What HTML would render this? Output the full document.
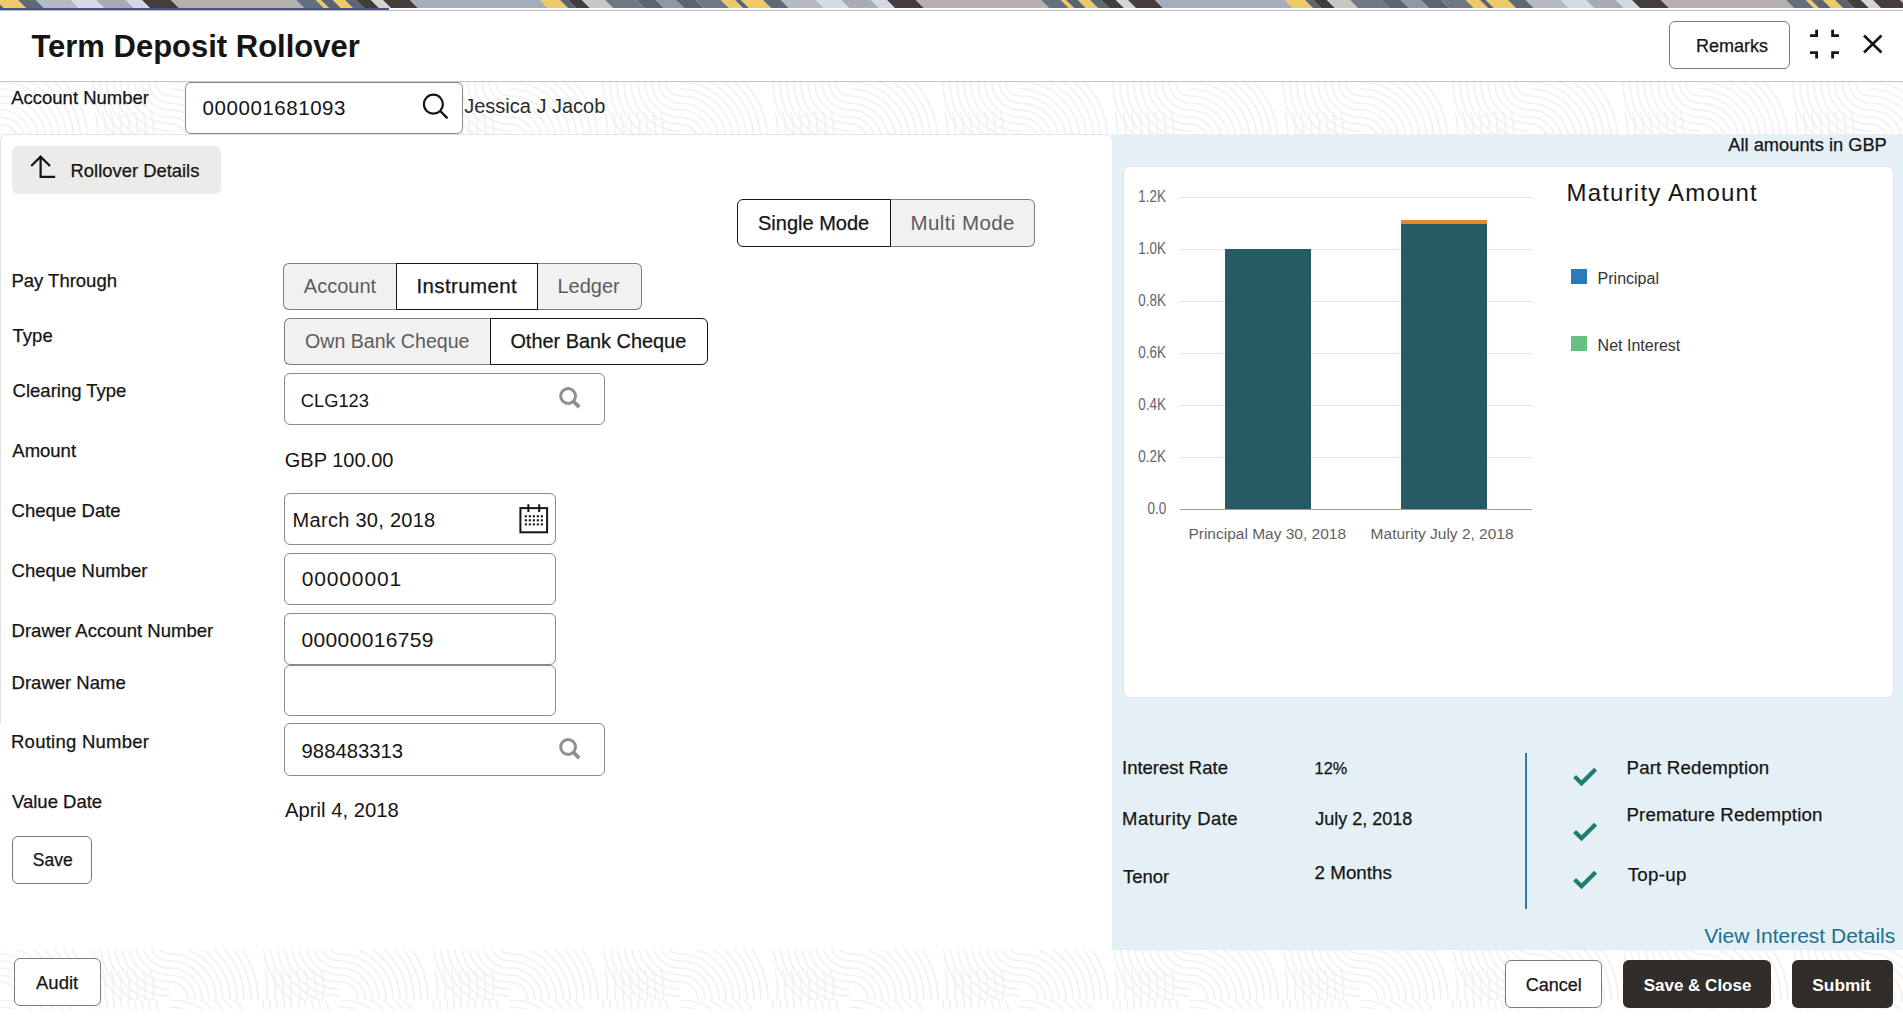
<!DOCTYPE html><html><head><meta charset="utf-8"><style>
*{margin:0;padding:0;box-sizing:border-box}
html,body{width:1903px;height:1016px;overflow:hidden;background:#fff;font-family:"Liberation Sans",sans-serif}
.t{position:absolute;white-space:nowrap;line-height:1}
.b{position:absolute}
</style></head><body>
<svg class="b" style="left:0;top:0" width="1903" height="8" viewBox="0 0 1903 8"><polygon points="-749,0 -727,0 -719,8 -741,8" fill="#edc967"/><polygon points="-727,0 -709,0 -701,8 -719,8" fill="#5f6a76"/><polygon points="-709,0 -674,0 -666,8 -701,8" fill="#b4b9c2"/><polygon points="-674,0 -649,0 -641,8 -666,8" fill="#d6dce6"/><polygon points="-649,0 -619,0 -611,8 -641,8" fill="#a7acb4"/><polygon points="-619,0 -603,0 -595,8 -611,8" fill="#d3d9e2"/><polygon points="-603,0 -574,0 -566,8 -595,8" fill="#423e3b"/><polygon points="-574,0 -449,0 -441,8 -566,8" fill="#b4b0ab"/><polygon points="-449,0 -429,0 -421,8 -441,8" fill="#63707e"/><polygon points="-429,0 -424,0 -416,8 -421,8" fill="#edc967"/><polygon points="-424,0 -412,0 -404,8 -416,8" fill="#5c6670"/><polygon points="-412,0 -400,0 -392,8 -404,8" fill="#edc967"/><polygon points="-400,0 -389,0 -381,8 -392,8" fill="#5c6670"/><polygon points="-389,0 -374,0 -366,8 -381,8" fill="#423e3b"/><polygon points="-374,0 -362,0 -354,8 -366,8" fill="#d6d4d0"/><polygon points="-362,0 -335,0 -327,8 -354,8" fill="#443f3c"/><polygon points="-335,0 -205,0 -197,8 -327,8" fill="#a4adba"/><polygon points="-205,0 -185,0 -177,8 -197,8" fill="#edc967"/><polygon points="-185,0 -177,0 -169,8 -177,8" fill="#5c6670"/><polygon points="-177,0 -163,0 -155,8 -169,8" fill="#433f3c"/><polygon points="-163,0 -140,0 -132,8 -155,8" fill="#c9c8c4"/><polygon points="-140,0 -109,0 -101,8 -132,8" fill="#6e7884"/><polygon points="-109,0 -89,0 -81,8 -101,8" fill="#5b6570"/><polygon points="-89,0 -69,0 -61,8 -81,8" fill="#8e97a4"/><polygon points="-69,0 -49,0 -41,8 -61,8" fill="#5b6570"/><polygon points="-49,0 -24,0 -16,8 -41,8" fill="#6e7884"/><polygon points="-24,0 -10,0 -2,8 -16,8" fill="#edc967"/><polygon points="-10,0 -4,0 4,8 -2,8" fill="#5b6570"/><polygon points="-4,0 18,0 26,8 4,8" fill="#edc967"/><polygon points="18,0 36,0 44,8 26,8" fill="#5f6a76"/><polygon points="36,0 71,0 79,8 44,8" fill="#b4b9c2"/><polygon points="71,0 96,0 104,8 79,8" fill="#d6dce6"/><polygon points="96,0 126,0 134,8 104,8" fill="#a7acb4"/><polygon points="126,0 142,0 150,8 134,8" fill="#d3d9e2"/><polygon points="142,0 171,0 179,8 150,8" fill="#423e3b"/><polygon points="171,0 296,0 304,8 179,8" fill="#b4b0ab"/><polygon points="296,0 316,0 324,8 304,8" fill="#63707e"/><polygon points="316,0 321,0 329,8 324,8" fill="#edc967"/><polygon points="321,0 333,0 341,8 329,8" fill="#5c6670"/><polygon points="333,0 345,0 353,8 341,8" fill="#edc967"/><polygon points="345,0 356,0 364,8 353,8" fill="#5c6670"/><polygon points="356,0 371,0 379,8 364,8" fill="#423e3b"/><polygon points="371,0 383,0 391,8 379,8" fill="#d6d4d0"/><polygon points="383,0 410,0 418,8 391,8" fill="#443f3c"/><polygon points="410,0 540,0 548,8 418,8" fill="#a4adba"/><polygon points="540,0 560,0 568,8 548,8" fill="#edc967"/><polygon points="560,0 568,0 576,8 568,8" fill="#5c6670"/><polygon points="568,0 582,0 590,8 576,8" fill="#433f3c"/><polygon points="582,0 605,0 613,8 590,8" fill="#c9c8c4"/><polygon points="605,0 636,0 644,8 613,8" fill="#6e7884"/><polygon points="636,0 656,0 664,8 644,8" fill="#5b6570"/><polygon points="656,0 676,0 684,8 664,8" fill="#8e97a4"/><polygon points="676,0 696,0 704,8 684,8" fill="#5b6570"/><polygon points="696,0 721,0 729,8 704,8" fill="#6e7884"/><polygon points="721,0 735,0 743,8 729,8" fill="#edc967"/><polygon points="735,0 741,0 749,8 743,8" fill="#5b6570"/><polygon points="741,0 763,0 771,8 749,8" fill="#edc967"/><polygon points="763,0 781,0 789,8 771,8" fill="#5f6a76"/><polygon points="781,0 816,0 824,8 789,8" fill="#b4b9c2"/><polygon points="816,0 841,0 849,8 824,8" fill="#d6dce6"/><polygon points="841,0 871,0 879,8 849,8" fill="#a7acb4"/><polygon points="871,0 887,0 895,8 879,8" fill="#d3d9e2"/><polygon points="887,0 916,0 924,8 895,8" fill="#423e3b"/><polygon points="916,0 1041,0 1049,8 924,8" fill="#b4b0ab"/><polygon points="1041,0 1061,0 1069,8 1049,8" fill="#63707e"/><polygon points="1061,0 1066,0 1074,8 1069,8" fill="#edc967"/><polygon points="1066,0 1078,0 1086,8 1074,8" fill="#5c6670"/><polygon points="1078,0 1090,0 1098,8 1086,8" fill="#edc967"/><polygon points="1090,0 1101,0 1109,8 1098,8" fill="#5c6670"/><polygon points="1101,0 1116,0 1124,8 1109,8" fill="#423e3b"/><polygon points="1116,0 1128,0 1136,8 1124,8" fill="#d6d4d0"/><polygon points="1128,0 1155,0 1163,8 1136,8" fill="#443f3c"/><polygon points="1155,0 1285,0 1293,8 1163,8" fill="#a4adba"/><polygon points="1285,0 1305,0 1313,8 1293,8" fill="#edc967"/><polygon points="1305,0 1313,0 1321,8 1313,8" fill="#5c6670"/><polygon points="1313,0 1327,0 1335,8 1321,8" fill="#433f3c"/><polygon points="1327,0 1350,0 1358,8 1335,8" fill="#c9c8c4"/><polygon points="1350,0 1381,0 1389,8 1358,8" fill="#6e7884"/><polygon points="1381,0 1401,0 1409,8 1389,8" fill="#5b6570"/><polygon points="1401,0 1421,0 1429,8 1409,8" fill="#8e97a4"/><polygon points="1421,0 1441,0 1449,8 1429,8" fill="#5b6570"/><polygon points="1441,0 1466,0 1474,8 1449,8" fill="#6e7884"/><polygon points="1466,0 1480,0 1488,8 1474,8" fill="#edc967"/><polygon points="1480,0 1486,0 1494,8 1488,8" fill="#5b6570"/><polygon points="1486,0 1508,0 1516,8 1494,8" fill="#edc967"/><polygon points="1508,0 1526,0 1534,8 1516,8" fill="#5f6a76"/><polygon points="1526,0 1561,0 1569,8 1534,8" fill="#b4b9c2"/><polygon points="1561,0 1586,0 1594,8 1569,8" fill="#d6dce6"/><polygon points="1586,0 1616,0 1624,8 1594,8" fill="#a7acb4"/><polygon points="1616,0 1632,0 1640,8 1624,8" fill="#d3d9e2"/><polygon points="1632,0 1661,0 1669,8 1640,8" fill="#423e3b"/><polygon points="1661,0 1786,0 1794,8 1669,8" fill="#b4b0ab"/><polygon points="1786,0 1806,0 1814,8 1794,8" fill="#63707e"/><polygon points="1806,0 1811,0 1819,8 1814,8" fill="#edc967"/><polygon points="1811,0 1823,0 1831,8 1819,8" fill="#5c6670"/><polygon points="1823,0 1835,0 1843,8 1831,8" fill="#edc967"/><polygon points="1835,0 1846,0 1854,8 1843,8" fill="#5c6670"/><polygon points="1846,0 1861,0 1869,8 1854,8" fill="#423e3b"/><polygon points="1861,0 1873,0 1881,8 1869,8" fill="#d6d4d0"/><polygon points="1873,0 1900,0 1908,8 1881,8" fill="#443f3c"/><polygon points="1900,0 2030,0 2038,8 1908,8" fill="#a4adba"/><polygon points="2030,0 2050,0 2058,8 2038,8" fill="#edc967"/><polygon points="2050,0 2058,0 2066,8 2058,8" fill="#5c6670"/><polygon points="2058,0 2072,0 2080,8 2066,8" fill="#433f3c"/><polygon points="2072,0 2095,0 2103,8 2080,8" fill="#c9c8c4"/><polygon points="2095,0 2126,0 2134,8 2103,8" fill="#6e7884"/><polygon points="2126,0 2146,0 2154,8 2134,8" fill="#5b6570"/><polygon points="2146,0 2166,0 2174,8 2154,8" fill="#8e97a4"/><polygon points="2166,0 2186,0 2194,8 2174,8" fill="#5b6570"/><polygon points="2186,0 2211,0 2219,8 2194,8" fill="#6e7884"/><polygon points="2211,0 2225,0 2233,8 2219,8" fill="#edc967"/><polygon points="2225,0 2231,0 2239,8 2233,8" fill="#5b6570"/><polygon points="2231,0 2253,0 2261,8 2239,8" fill="#edc967"/><polygon points="2253,0 2271,0 2279,8 2261,8" fill="#5f6a76"/><polygon points="2271,0 2306,0 2314,8 2279,8" fill="#b4b9c2"/><polygon points="2306,0 2331,0 2339,8 2314,8" fill="#d6dce6"/><polygon points="2331,0 2361,0 2369,8 2339,8" fill="#a7acb4"/><polygon points="2361,0 2377,0 2385,8 2369,8" fill="#d3d9e2"/><polygon points="2377,0 2406,0 2414,8 2385,8" fill="#423e3b"/><polygon points="2406,0 2531,0 2539,8 2414,8" fill="#b4b0ab"/><polygon points="2531,0 2551,0 2559,8 2539,8" fill="#63707e"/><polygon points="2551,0 2556,0 2564,8 2559,8" fill="#edc967"/><polygon points="2556,0 2568,0 2576,8 2564,8" fill="#5c6670"/><polygon points="2568,0 2580,0 2588,8 2576,8" fill="#edc967"/><polygon points="2580,0 2591,0 2599,8 2588,8" fill="#5c6670"/><polygon points="2591,0 2606,0 2614,8 2599,8" fill="#423e3b"/><polygon points="2606,0 2618,0 2626,8 2614,8" fill="#d6d4d0"/><polygon points="2618,0 2645,0 2653,8 2626,8" fill="#443f3c"/><polygon points="2645,0 2775,0 2783,8 2653,8" fill="#a4adba"/><polygon points="2775,0 2795,0 2803,8 2783,8" fill="#edc967"/><polygon points="2795,0 2803,0 2811,8 2803,8" fill="#5c6670"/><polygon points="2803,0 2817,0 2825,8 2811,8" fill="#433f3c"/><polygon points="2817,0 2840,0 2848,8 2825,8" fill="#c9c8c4"/><polygon points="2840,0 2871,0 2879,8 2848,8" fill="#6e7884"/><polygon points="2871,0 2891,0 2899,8 2879,8" fill="#5b6570"/><polygon points="2891,0 2911,0 2919,8 2899,8" fill="#8e97a4"/><polygon points="2911,0 2931,0 2939,8 2919,8" fill="#5b6570"/><polygon points="2931,0 2956,0 2964,8 2939,8" fill="#6e7884"/><polygon points="2956,0 2970,0 2978,8 2964,8" fill="#edc967"/><polygon points="2970,0 2976,0 2984,8 2978,8" fill="#5b6570"/></svg>
<div class="b" style="left:0px;top:8px;width:389px;height:2px;background:#4b5585"></div>
<div class="b" style="left:0px;top:10px;width:1903px;height:1px;background:#b9b9b9"></div>
<div class="b" style="left:0px;top:81px;width:1903px;height:1px;background:#c6c6c6"></div>
<svg class="b" style="left:0px;top:82px" width="1903" height="52"><defs><pattern id="p1" width="170" height="60" patternUnits="userSpaceOnUse"><rect width="170" height="60" fill="#ffffff"/><g fill="none" stroke="#f1f1f1" stroke-width="1.7"><path d="M0 42 A18 18 0 0 1 18 60"/><path d="M0 35 A25 25 0 0 1 25 60"/><path d="M0 28 A32 32 0 0 1 32 60"/><path d="M0 21 A39 39 0 0 1 39 60"/><path d="M0 14 A46 46 0 0 1 46 60"/><path d="M0 7 A53 53 0 0 1 53 60"/><path d="M0 0 A60 60 0 0 1 60 60"/><path d="M0 -7 A67 67 0 0 1 67 60"/><path d="M0 -14 A74 74 0 0 1 74 60"/><path d="M0 -21 A81 81 0 0 1 81 60"/><path d="M0 -28 A88 88 0 0 1 88 60"/><path d="M156 0 A14 14 0 0 0 170 14"/><path d="M149 0 A21 21 0 0 0 170 21"/><path d="M142 0 A28 28 0 0 0 170 28"/><path d="M135 0 A35 35 0 0 0 170 35"/><path d="M128 0 A42 42 0 0 0 170 42"/><path d="M121 0 A49 49 0 0 0 170 49"/><path d="M114 0 A56 56 0 0 0 170 56"/><path d="M107 0 A63 63 0 0 0 170 63"/><path d="M100 0 A70 70 0 0 0 170 70"/><path d="M93 0 A77 77 0 0 0 170 77"/><path d="M95 30 Q99 45 97 60"/><path d="M103 30 Q107 45 105 60"/><path d="M111 30 Q115 45 113 60"/><path d="M119 30 Q123 45 121 60"/><path d="M127 30 Q131 45 129 60"/><path d="M135 30 Q139 45 137 60"/><path d="M143 30 Q147 45 145 60"/><path d="M151 30 Q155 45 153 60"/></g></pattern></defs><rect width="100%" height="100%" fill="url(#p1)"/></svg>
<svg class="b" style="left:0px;top:940px" width="1903" height="69"><defs><pattern id="p2" width="170" height="60" patternUnits="userSpaceOnUse"><rect width="170" height="60" fill="#ffffff"/><g fill="none" stroke="#f1f1f1" stroke-width="1.7"><path d="M0 42 A18 18 0 0 1 18 60"/><path d="M0 35 A25 25 0 0 1 25 60"/><path d="M0 28 A32 32 0 0 1 32 60"/><path d="M0 21 A39 39 0 0 1 39 60"/><path d="M0 14 A46 46 0 0 1 46 60"/><path d="M0 7 A53 53 0 0 1 53 60"/><path d="M0 0 A60 60 0 0 1 60 60"/><path d="M0 -7 A67 67 0 0 1 67 60"/><path d="M0 -14 A74 74 0 0 1 74 60"/><path d="M0 -21 A81 81 0 0 1 81 60"/><path d="M0 -28 A88 88 0 0 1 88 60"/><path d="M156 0 A14 14 0 0 0 170 14"/><path d="M149 0 A21 21 0 0 0 170 21"/><path d="M142 0 A28 28 0 0 0 170 28"/><path d="M135 0 A35 35 0 0 0 170 35"/><path d="M128 0 A42 42 0 0 0 170 42"/><path d="M121 0 A49 49 0 0 0 170 49"/><path d="M114 0 A56 56 0 0 0 170 56"/><path d="M107 0 A63 63 0 0 0 170 63"/><path d="M100 0 A70 70 0 0 0 170 70"/><path d="M93 0 A77 77 0 0 0 170 77"/><path d="M95 30 Q99 45 97 60"/><path d="M103 30 Q107 45 105 60"/><path d="M111 30 Q115 45 113 60"/><path d="M119 30 Q123 45 121 60"/><path d="M127 30 Q131 45 129 60"/><path d="M135 30 Q139 45 137 60"/><path d="M143 30 Q147 45 145 60"/><path d="M151 30 Q155 45 153 60"/></g></pattern></defs><rect width="100%" height="100%" fill="url(#p2)"/></svg>
<div class="b" style="left:0px;top:134px;width:1113px;height:816px;background:#fff;border:1px solid #e3e3e3;border-bottom:none;border-radius:6px"></div>
<div class="b" style="left:0px;top:724px;width:2px;height:226px;background:#fff"></div>
<div class="b" style="left:1112px;top:134px;width:791px;height:816px;background:#e4f0f6"></div>
<div class="b" style="left:1123px;top:166px;width:771px;height:532px;background:#fff;border:1px solid #e2e2e2;border-radius:7px"></div>
<div class="b" style="left:1669px;top:21px;width:121px;height:48px;border:1px solid #7b7b7b;border-radius:6px;background:#fff"></div>
<svg class="b" style="left:1805px;top:25px" width="40" height="38" viewBox="1805 25 40 38">
<path d="M1810 35.6H1816.6V29.7M1832.6 29.7V35.6H1839M1810 52.6H1816.6V58.4M1832.6 58.4V52.6H1839" fill="none" stroke="#161513" stroke-width="2.8"/>
</svg>
<svg class="b" style="left:1858px;top:30px" width="30" height="30" viewBox="1858 30 30 30">
<path d="M1864 35.5L1881.5 52.5M1881.5 35.5L1864 52.5" fill="none" stroke="#161513" stroke-width="2.6"/>
</svg>
<div class="b" style="left:185px;top:82px;width:278px;height:52px;border:1px solid #858585;border-radius:6px;background:#fff"></div>
<svg class="b" style="left:418px;top:90px" width="36" height="34" viewBox="418 90 36 34">
<circle cx="433.4" cy="104.2" r="9.5" fill="none" stroke="#161513" stroke-width="2.2"/><path d="M440.2 111L446.8 117.6" stroke="#161513" stroke-width="2.4" stroke-linecap="round"/></svg>
<div class="b" style="left:12px;top:146px;width:209px;height:48px;background:#ecebe9;border-radius:6px"></div>
<svg class="b" style="left:28px;top:152px" width="32" height="30" viewBox="28 152 32 30">
<path d="M31.2 166L40.6 156.6L50 166M40.6 156.6V176.8H55.2" fill="none" stroke="#161513" stroke-width="2.2"/></svg>
<div class="b" style="left:890px;top:199px;width:145px;height:48px;background:#f1f1f1;border:1px solid #7e7e7e;border-left:none;border-radius:0 6px 6px 0"></div>
<div class="b" style="left:737px;top:199px;width:154px;height:48px;background:#fff;border:1px solid #161513;border-radius:6px 0 0 6px"></div>
<div class="b" style="left:283px;top:263px;width:114px;height:47px;background:#f1f1f1;border:1px solid #7e7e7e;border-right:none;border-radius:6px 0 0 6px"></div>
<div class="b" style="left:538px;top:263px;width:104px;height:47px;background:#f1f1f1;border:1px solid #7e7e7e;border-left:none;border-radius:0 6px 6px 0"></div>
<div class="b" style="left:396px;top:263px;width:142px;height:47px;background:#fff;border:1px solid #161513"></div>
<div class="b" style="left:284px;top:318px;width:207px;height:47px;background:#f1f1f1;border:1px solid #7e7e7e;border-right:none;border-radius:6px 0 0 6px"></div>
<div class="b" style="left:490px;top:318px;width:218px;height:47px;background:#fff;border:1px solid #161513;border-radius:0 6px 6px 0"></div>
<div class="b" style="left:284px;top:373px;width:321px;height:52px;border:1px solid #8a8a8a;border-radius:6px;background:#fff"></div>
<div class="b" style="left:284px;top:493px;width:272px;height:52px;border:1px solid #8a8a8a;border-radius:6px;background:#fff"></div>
<div class="b" style="left:284px;top:553px;width:272px;height:52px;border:1px solid #8a8a8a;border-radius:6px;background:#fff"></div>
<div class="b" style="left:284px;top:613px;width:272px;height:52px;border:1px solid #8a8a8a;border-radius:6px;background:#fff"></div>
<div class="b" style="left:284px;top:665px;width:272px;height:51px;border:1px solid #8a8a8a;border-radius:6px;background:#fff"></div>
<div class="b" style="left:284px;top:723px;width:321px;height:53px;border:1px solid #8a8a8a;border-radius:6px;background:#fff"></div>
<svg class="b" style="left:552px;top:382.3px" width="36" height="30" viewBox="552 382.3 36 30">
<circle cx="568.1" cy="396.3" r="7.4" fill="none" stroke="#8f8f8f" stroke-width="3"/><path d="M573.3 401.5L579.2 407.40000000000003" stroke="#8f8f8f" stroke-width="3.8" stroke-linecap="butt"/></svg>
<svg class="b" style="left:552px;top:732.9px" width="36" height="30" viewBox="552 732.9 36 30">
<circle cx="568.1" cy="746.9" r="7.4" fill="none" stroke="#8f8f8f" stroke-width="3"/><path d="M573.3 752.1L579.2 758.0" stroke="#8f8f8f" stroke-width="3.8" stroke-linecap="butt"/></svg>
<svg class="b" style="left:515px;top:500px" width="38" height="38" viewBox="515 500 38 38">
<rect x="520.4" y="508.1" width="26.7" height="24.2" fill="none" stroke="#161513" stroke-width="2"/>
<path d="M528.4 504.3V512M539.2 504.3V512" stroke="#161513" stroke-width="2"/><rect x="524.8" y="515.20" width="2.1" height="2.1" fill="#161513"/><rect x="524.8" y="519.25" width="2.1" height="2.1" fill="#161513"/><rect x="524.8" y="523.30" width="2.1" height="2.1" fill="#161513"/><rect x="528.8" y="515.20" width="2.1" height="2.1" fill="#161513"/><rect x="528.8" y="519.25" width="2.1" height="2.1" fill="#161513"/><rect x="528.8" y="523.30" width="2.1" height="2.1" fill="#161513"/><rect x="532.8" y="515.20" width="2.1" height="2.1" fill="#161513"/><rect x="532.8" y="519.25" width="2.1" height="2.1" fill="#161513"/><rect x="532.8" y="523.30" width="2.1" height="2.1" fill="#161513"/><rect x="536.8" y="515.20" width="2.1" height="2.1" fill="#161513"/><rect x="536.8" y="519.25" width="2.1" height="2.1" fill="#161513"/><rect x="536.8" y="523.30" width="2.1" height="2.1" fill="#161513"/><rect x="540.8" y="515.20" width="2.1" height="2.1" fill="#161513"/><rect x="540.8" y="519.25" width="2.1" height="2.1" fill="#161513"/><rect x="540.8" y="523.30" width="2.1" height="2.1" fill="#161513"/></svg>
<div class="b" style="left:12px;top:836px;width:80px;height:48px;border:1px solid #7b7b7b;border-radius:6px;background:#fff"></div>
<div class="b" style="left:1180px;top:196.5px;width:352px;height:1.0px;background:#e6e6e6"></div>
<div class="b" style="left:1180px;top:248.5px;width:352px;height:1.0px;background:#e6e6e6"></div>
<div class="b" style="left:1180px;top:300.5px;width:352px;height:1.0px;background:#e6e6e6"></div>
<div class="b" style="left:1180px;top:352.5px;width:352px;height:1.0px;background:#e6e6e6"></div>
<div class="b" style="left:1180px;top:404.5px;width:352px;height:1.0px;background:#e6e6e6"></div>
<div class="b" style="left:1180px;top:456.5px;width:352px;height:1.0px;background:#e6e6e6"></div>
<div class="b" style="left:1180px;top:508.5px;width:352px;height:1.1999999999999886px;background:#9d9d9d"></div>
<div class="b" style="left:1224.7px;top:249.2px;width:86.39999999999986px;height:259.8px;background:#255b63"></div>
<div class="b" style="left:1400.5px;top:223.8px;width:86.40000000000009px;height:285.2px;background:#255b63"></div>
<div class="b" style="left:1400.5px;top:220.4px;width:86.40000000000009px;height:3.4000000000000057px;background:#e0892a"></div>
<div class="t" style="right:737px;top:188.66px;font-size:16px;color:#666;transform:scaleX(0.84);transform-origin:100% 50%">1.2K</div>
<div class="t" style="right:737px;top:240.66px;font-size:16px;color:#666;transform:scaleX(0.84);transform-origin:100% 50%">1.0K</div>
<div class="t" style="right:737px;top:292.66px;font-size:16px;color:#666;transform:scaleX(0.84);transform-origin:100% 50%">0.8K</div>
<div class="t" style="right:737px;top:344.56px;font-size:16px;color:#666;transform:scaleX(0.84);transform-origin:100% 50%">0.6K</div>
<div class="t" style="right:737px;top:396.56px;font-size:16px;color:#666;transform:scaleX(0.84);transform-origin:100% 50%">0.4K</div>
<div class="t" style="right:737px;top:448.56px;font-size:16px;color:#666;transform:scaleX(0.84);transform-origin:100% 50%">0.2K</div>
<div class="t" style="right:737px;top:500.56px;font-size:16px;color:#666;transform:scaleX(0.84);transform-origin:100% 50%">0.0</div>
<div class="b" style="left:1571px;top:269px;width:16px;height:15px;background:#2a7ab8"></div>
<div class="b" style="left:1571px;top:336px;width:16px;height:15px;background:#67c083"></div>
<div class="b" style="left:1525.3px;top:753px;width:2.2000000000000455px;height:156px;background:#2d7db3"></div>
<svg class="b" style="left:1570px;top:764.7px" width="30" height="24" viewBox="1570 764.7 30 24">
<path d="M1574.6 776.3000000000001L1581.5 782.9000000000001L1595.6 769.0" fill="none" stroke="#1f7d78" stroke-width="4.2"/></svg>
<svg class="b" style="left:1570px;top:820px" width="30" height="24" viewBox="1570 820 30 24">
<path d="M1574.6 831.6L1581.5 838.2L1595.6 824.3" fill="none" stroke="#1f7d78" stroke-width="4.2"/></svg>
<svg class="b" style="left:1570px;top:867.6px" width="30" height="24" viewBox="1570 867.6 30 24">
<path d="M1574.6 879.2L1581.5 885.8000000000001L1595.6 871.9" fill="none" stroke="#1f7d78" stroke-width="4.2"/></svg>
<div class="b" style="left:14px;top:958px;width:87px;height:48px;border:1px solid #7b7b7b;border-radius:6px;background:#fff"></div>
<div class="b" style="left:1505px;top:960px;width:97px;height:48px;border:1px solid #7b7b7b;border-radius:6px;background:#fff"></div>
<div class="b" style="left:1623px;top:960px;width:148px;height:48px;background:#312d2a;border-radius:6px"></div>
<div class="b" style="left:1791.6px;top:960px;width:101.40000000000009px;height:48px;background:#312d2a;border-radius:6px"></div>
<div class="t" id="title" style="left:31.40px;top:30.66px;font-size:31px;color:#161513;font-weight:700;">Term Deposit Rollover</div>
<div class="t" id="remarks" style="left:1696.00px;top:36.76px;font-size:18px;color:#161513;-webkit-text-stroke:0.25px #161513;">Remarks</div>
<div class="t" id="acclbl" style="left:11.20px;top:88.74px;font-size:18.5px;color:#161513;-webkit-text-stroke:0.25px #161513;">Account Number</div>
<div class="t" id="accval" style="left:202.60px;top:98.05px;font-size:20.5px;color:#161513;letter-spacing:0.550px;">000001681093</div>
<div class="t" id="accname" style="left:464.20px;top:95.67px;font-size:20px;color:#2b2b2b;">Jessica J Jacob</div>
<div class="t" id="rolltxt" style="left:70.60px;top:161.72px;font-size:18.4px;color:#161513;-webkit-text-stroke:0.25px #161513;">Rollover Details</div>
<div class="t" id="single" style="left:758.00px;top:212.67px;font-size:20px;color:#161513;-webkit-text-stroke:0.25px #161513;">Single Mode</div>
<div class="t" id="multi" style="left:910.40px;top:212.85px;font-size:20.5px;color:#5c5c5c;letter-spacing:0.420px;">Multi Mode</div>
<div class="t" id="l_pay" style="left:11.40px;top:272.44px;font-size:18.5px;color:#161513;-webkit-text-stroke:0.25px #161513;">Pay Through</div>
<div class="t" id="l_type" style="left:12.60px;top:327.04px;font-size:18.5px;color:#161513;-webkit-text-stroke:0.25px #161513;">Type</div>
<div class="t" id="l_clg" style="left:12.60px;top:382.34px;font-size:18.5px;color:#161513;-webkit-text-stroke:0.25px #161513;">Clearing Type</div>
<div class="t" id="l_amt" style="left:12.30px;top:441.74px;font-size:18.5px;color:#161513;-webkit-text-stroke:0.25px #161513;">Amount</div>
<div class="t" id="l_cdate" style="left:11.60px;top:501.54px;font-size:18.5px;color:#161513;-webkit-text-stroke:0.25px #161513;">Cheque Date</div>
<div class="t" id="l_cnum" style="left:11.60px;top:561.54px;font-size:18.5px;color:#161513;-webkit-text-stroke:0.25px #161513;">Cheque Number</div>
<div class="t" id="l_dacc" style="left:11.60px;top:621.54px;font-size:18.5px;color:#161513;-webkit-text-stroke:0.25px #161513;">Drawer Account Number</div>
<div class="t" id="l_dname" style="left:11.60px;top:673.74px;font-size:18.5px;color:#161513;-webkit-text-stroke:0.25px #161513;">Drawer Name</div>
<div class="t" id="l_rout" style="left:11.00px;top:733.34px;font-size:18.5px;color:#161513;letter-spacing:0.250px;-webkit-text-stroke:0.25px #161513;">Routing Number</div>
<div class="t" id="l_vdate" style="left:12.00px;top:792.74px;font-size:18.5px;color:#161513;-webkit-text-stroke:0.25px #161513;">Value Date</div>
<div class="t" id="s_acc" style="left:303.80px;top:275.97px;font-size:20px;color:#5c5c5c;">Account</div>
<div class="t" id="s_ins" style="left:416.40px;top:275.55px;font-size:20.5px;color:#161513;letter-spacing:0.380px;-webkit-text-stroke:0.25px #161513;">Instrument</div>
<div class="t" id="s_led" style="left:557.40px;top:275.97px;font-size:20px;color:#5c5c5c;">Ledger</div>
<div class="t" id="s_own" style="left:305.00px;top:332.01px;font-size:19.6px;color:#5c5c5c;">Own Bank Cheque</div>
<div class="t" id="s_oth" style="left:510.40px;top:331.75px;font-size:19.9px;color:#161513;-webkit-text-stroke:0.25px #161513;">Other Bank Cheque</div>
<div class="t" id="v_clg" style="left:300.80px;top:391.51px;font-size:18.3px;color:#161513;">CLG123</div>
<div class="t" id="v_amt" style="left:284.80px;top:449.87px;font-size:20px;color:#161513;">GBP 100.00</div>
<div class="t" id="v_cdate" style="left:292.60px;top:509.67px;font-size:20px;color:#161513;letter-spacing:0.280px;">March 30, 2018</div>
<div class="t" id="v_cnum" style="left:301.70px;top:567.82px;font-size:21px;color:#161513;letter-spacing:0.860px;">00000001</div>
<div class="t" id="v_dacc" style="left:301.60px;top:629.32px;font-size:21px;color:#161513;letter-spacing:0.330px;">00000016759</div>
<div class="t" id="v_rout" style="left:301.60px;top:740.62px;font-size:20.3px;color:#161513;">988483313</div>
<div class="t" id="v_vdate" style="left:285.00px;top:800.02px;font-size:20.3px;color:#161513;">April 4, 2018</div>
<div class="t" id="save" style="left:32.80px;top:852.39px;font-size:17.5px;color:#161513;-webkit-text-stroke:0.25px #161513;">Save</div>
<div class="t" id="allamt" style="left:1728.30px;top:136.31px;font-size:18.3px;color:#161513;-webkit-text-stroke:0.25px #161513;">All amounts in GBP</div>
<div class="t" id="mattitle" style="left:1566.50px;top:180.78px;font-size:24px;color:#161513;letter-spacing:1.200px;">Maturity Amount</div>
<div class="t" id="leg1" style="left:1597.60px;top:271.06px;font-size:16px;color:#333333;">Principal</div>
<div class="t" id="leg2" style="left:1597.60px;top:337.86px;font-size:16px;color:#333333;">Net Interest</div>
<div class="t" id="xl1" style="left:1188.40px;top:525.88px;font-size:15.5px;color:#5f5f5f;">Principal May 30, 2018</div>
<div class="t" id="xl2" style="left:1370.60px;top:525.88px;font-size:15.5px;color:#5f5f5f;">Maturity July 2, 2018</div>
<div class="t" id="ir" style="left:1122.00px;top:759.34px;font-size:18.5px;color:#161513;-webkit-text-stroke:0.25px #161513;">Interest Rate</div>
<div class="t" id="md" style="left:1122.00px;top:809.64px;font-size:18.5px;color:#161513;letter-spacing:0.470px;-webkit-text-stroke:0.25px #161513;">Maturity Date</div>
<div class="t" id="tn" style="left:1123.00px;top:867.54px;font-size:18.5px;color:#161513;-webkit-text-stroke:0.25px #161513;">Tenor</div>
<div class="t" id="irv" style="left:1314.60px;top:760.00px;font-size:16.3px;color:#161513;-webkit-text-stroke:0.25px #161513;">12%</div>
<div class="t" id="mdv" style="left:1315.30px;top:810.06px;font-size:18px;color:#161513;-webkit-text-stroke:0.25px #161513;">July 2, 2018</div>
<div class="t" id="tnv" style="left:1314.60px;top:864.09px;font-size:18.8px;color:#161513;-webkit-text-stroke:0.25px #161513;">2 Months</div>
<div class="t" id="pr" style="left:1626.50px;top:759.37px;font-size:18.7px;color:#161513;letter-spacing:0.180px;-webkit-text-stroke:0.25px #161513;">Part Redemption</div>
<div class="t" id="pmr" style="left:1626.50px;top:806.37px;font-size:18.7px;color:#161513;letter-spacing:0.140px;-webkit-text-stroke:0.25px #161513;">Premature Redemption</div>
<div class="t" id="tu" style="left:1627.70px;top:866.37px;font-size:18.7px;color:#161513;letter-spacing:0.300px;-webkit-text-stroke:0.25px #161513;">Top-up</div>
<div class="t" id="vid" style="left:1704.20px;top:925.42px;font-size:21px;color:#1f6e8c;">View Interest Details</div>
<div class="t" id="audit" style="left:36.00px;top:973.94px;font-size:18.5px;color:#161513;-webkit-text-stroke:0.25px #161513;">Audit</div>
<div class="t" id="cancel" style="left:1525.80px;top:975.56px;font-size:18px;color:#161513;-webkit-text-stroke:0.25px #161513;">Cancel</div>
<div class="t" id="saveclose" style="left:1643.70px;top:976.61px;font-size:17px;color:#ffffff;font-weight:700;">Save &amp; Close</div>
<div class="t" id="submit" style="left:1812.30px;top:977.36px;font-size:17.3px;color:#ffffff;font-weight:700;">Submit</div>
</body></html>
